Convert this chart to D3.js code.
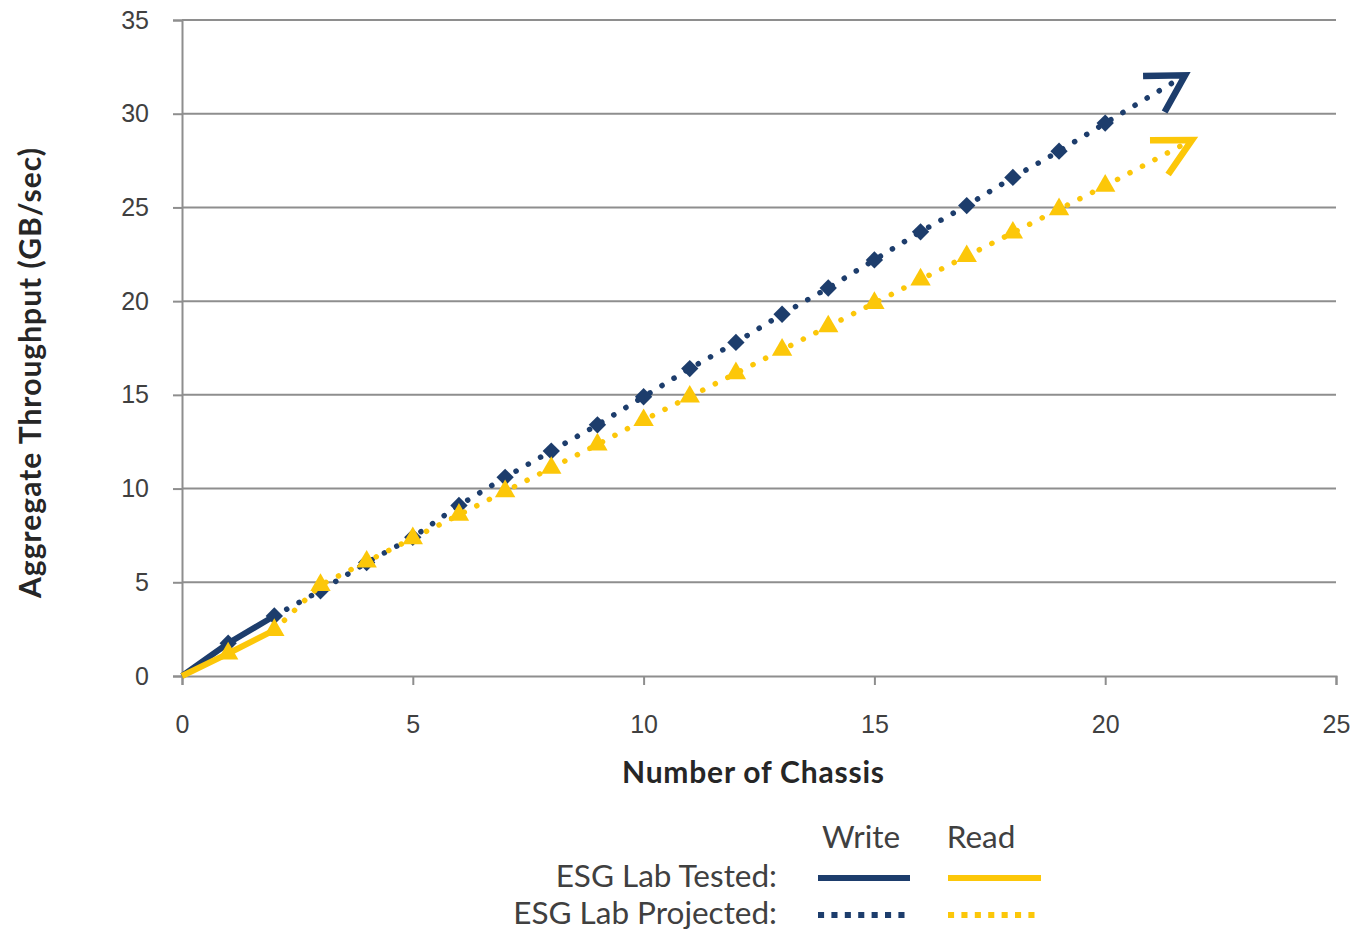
<!DOCTYPE html>
<html>
<head>
<meta charset="utf-8">
<script src="https://cdn.jsdelivr.net/npm/d3@7"></script>
<style>
  body { margin: 0; background: #fff; }
  svg { display: block; font-family: Lato, 'Open Sans', sans-serif; }
  .tick text { fill: #404040; font-size: 25px; }
  .legend-text { fill: #404040; font-size: 31.5px; }
  .axis-title { fill: #262626; font-size: 30px; font-weight: bold; }
</style>
</head>
<body>
<svg id="chart" width="1357" height="932"></svg>
<script>
// chassis count (x) and throughput in GB/sec (y)
const chassis = [0, 1, 2, 3, 4, 5, 6, 7, 8, 9, 10, 11, 12, 13, 14, 15, 16, 17, 18, 19, 20];
const writeValues = [0, 1.75, 3.2, 4.55, 6.05, 7.4, 9.1, 10.6, 12.0, 13.4, 14.9, 16.4, 17.8, 19.3, 20.7, 22.2, 23.7, 25.1, 26.6, 28.0, 29.5];
const readValues = [0, 1.2, 2.45, 4.85, 6.1, 7.35, 8.6, 9.85, 11.1, 12.35, 13.65, 14.9, 16.15, 17.4, 18.65, 19.9, 21.15, 22.4, 23.65, 24.9, 26.15];
const testedUpTo = 2; // points 0..2 were tested, the rest projected
const writeArrowTip = [21.73, 32.05];
const readArrowTip = [21.88, 28.6];
const xTicks = [0, 5, 10, 15, 20, 25];
const yTicks = [0, 5, 10, 15, 20, 25, 30, 35];

const width = 1357;
const height = 932;
const margin = { left: 182, right: 21, top: 20, bottom: 256 };
const drawWidth = width - margin.left - margin.right;
const drawHeight = height - margin.top - margin.bottom;

const navy = '#1d3d6c';
const gold = '#fcc709';
const grid = '#8e8e8e';

const svg = d3.select('#chart');
const g = svg.append('g').attr('transform', `translate(${margin.left},${margin.top})`);

const xScale = d3.scaleLinear().domain([0, 25]).range([0, drawWidth]);
const yScale = d3.scaleLinear().domain([0, 35]).range([drawHeight, 0]);

// horizontal gridlines
g.append('g')
  .selectAll('line')
  .data(yTicks.filter(d => d > 0))
  .join('line')
  .attr('x1', 0)
  .attr('x2', drawWidth)
  .attr('y1', d => yScale(d))
  .attr('y2', d => yScale(d))
  .attr('stroke', grid)
  .attr('stroke-width', 2);

// axes
const xAxis = g.append('g')
  .attr('transform', `translate(0,${drawHeight})`)
  .call(d3.axisBottom(xScale).tickValues(xTicks).tickSize(9).tickPadding(30));
const yAxis = g.append('g')
  .call(d3.axisLeft(yScale).tickValues(yTicks).tickSize(9).tickPadding(24));
[xAxis, yAxis].forEach(ax => {
  ax.select('.domain').attr('stroke', grid).attr('stroke-width', 2);
  ax.selectAll('.tick line').attr('stroke', grid).attr('stroke-width', 2);
  ax.selectAll('.tick text').attr('font-family', null).attr('font-size', null);
});
xAxis.selectAll('.tick text').attr('dy', '0.71em');

// axis titles
svg.append('text')
  .attr('class', 'axis-title')
  .attr('x', 753)
  .attr('y', 783)
  .attr('text-anchor', 'middle')
  .attr('textLength', 262)
  .text('Number of Chassis');

svg.append('text')
  .attr('class', 'axis-title')
  .attr('transform', `translate(41,${373}) rotate(-90)`)
  .attr('text-anchor', 'middle')
  .attr('textLength', 450)
  .text('Aggregate Throughput (GB/sec)');

const line = d3.line().x(d => xScale(d[0])).y(d => yScale(d[1]));

const series = [
  { values: writeValues, tip: writeArrowTip, color: navy, symbol: d3.symbolSquare, size: 150, rotate: 45, spread: 30 },
  { values: readValues, tip: readArrowTip, color: gold, symbol: d3.symbolTriangle, size: 180, rotate: 0, spread: 27.5 },
];

series.forEach(s => {
  const pts = chassis.map((c, i) => [c, s.values[i]]);
  const tested = pts.slice(0, testedUpTo + 1);
  const projected = pts.slice(testedUpTo).concat([s.tip]);

  g.append('path')
    .datum(tested)
    .attr('d', line)
    .attr('fill', 'none')
    .attr('stroke', s.color)
    .attr('stroke-width', 6);

  g.append('path')
    .datum(projected)
    .attr('d', line)
    .attr('fill', 'none')
    .attr('stroke', s.color)
    .attr('stroke-width', 5.5)
    .attr('stroke-linecap', 'round')
    .attr('stroke-dasharray', '0.1 14');

  g.append('g')
    .selectAll('path')
    .data(pts.slice(1))
    .join('path')
    .attr('transform', d => `translate(${xScale(d[0])},${yScale(d[1])}) rotate(${s.rotate})`)
    .attr('d', d3.symbol().type(s.symbol).size(s.size))
    .attr('fill', s.color);

  // open arrowhead at the end of the projection
  const last = pts[pts.length - 1];
  const tx = xScale(s.tip[0]);
  const ty = yScale(s.tip[1]);
  const back = Math.atan2(yScale(last[1]) - ty, xScale(last[0]) - tx);
  const wing = 42;
  const spread = s.spread * Math.PI / 180;
  const w1 = [tx + wing * Math.cos(back + spread), ty + wing * Math.sin(back + spread)];
  const w2 = [tx + wing * Math.cos(back - spread), ty + wing * Math.sin(back - spread)];
  g.append('path')
    .attr('d', d3.line()([w1, [tx, ty], w2]))
    .attr('fill', 'none')
    .attr('stroke', s.color)
    .attr('stroke-width', 6.5)
    .attr('stroke-linejoin', 'miter');
});

// legend
const legend = svg.append('g');
const colX = [861, 981];
const lineX = [[818, 910], [948, 1041]];
['Write', 'Read'].forEach((t, i) => {
  legend.append('text')
    .attr('class', 'legend-text')
    .attr('x', colX[i])
    .attr('y', 848)
    .attr('text-anchor', 'middle')
    .text(t);
});
[['ESG Lab Tested:', 878, null], ['ESG Lab Projected:', 915, '0.1 13.3']].forEach(([label, y, dash]) => {
  legend.append('text')
    .attr('class', 'legend-text')
    .attr('x', 777)
    .attr('y', y + 9)
    .attr('text-anchor', 'end')
    .text(label);
  [navy, gold].forEach((c, i) => {
    legend.append('line')
      .attr('x1', lineX[i][0] + (dash ? 3 : 0))
      .attr('x2', lineX[i][1])
      .attr('y1', y)
      .attr('y2', y)
      .attr('stroke', c)
      .attr('stroke-width', 6)
      .attr('stroke-linecap', dash ? 'square' : 'butt')
      .attr('stroke-dasharray', dash);
  });
});
</script>
</body>
</html>
